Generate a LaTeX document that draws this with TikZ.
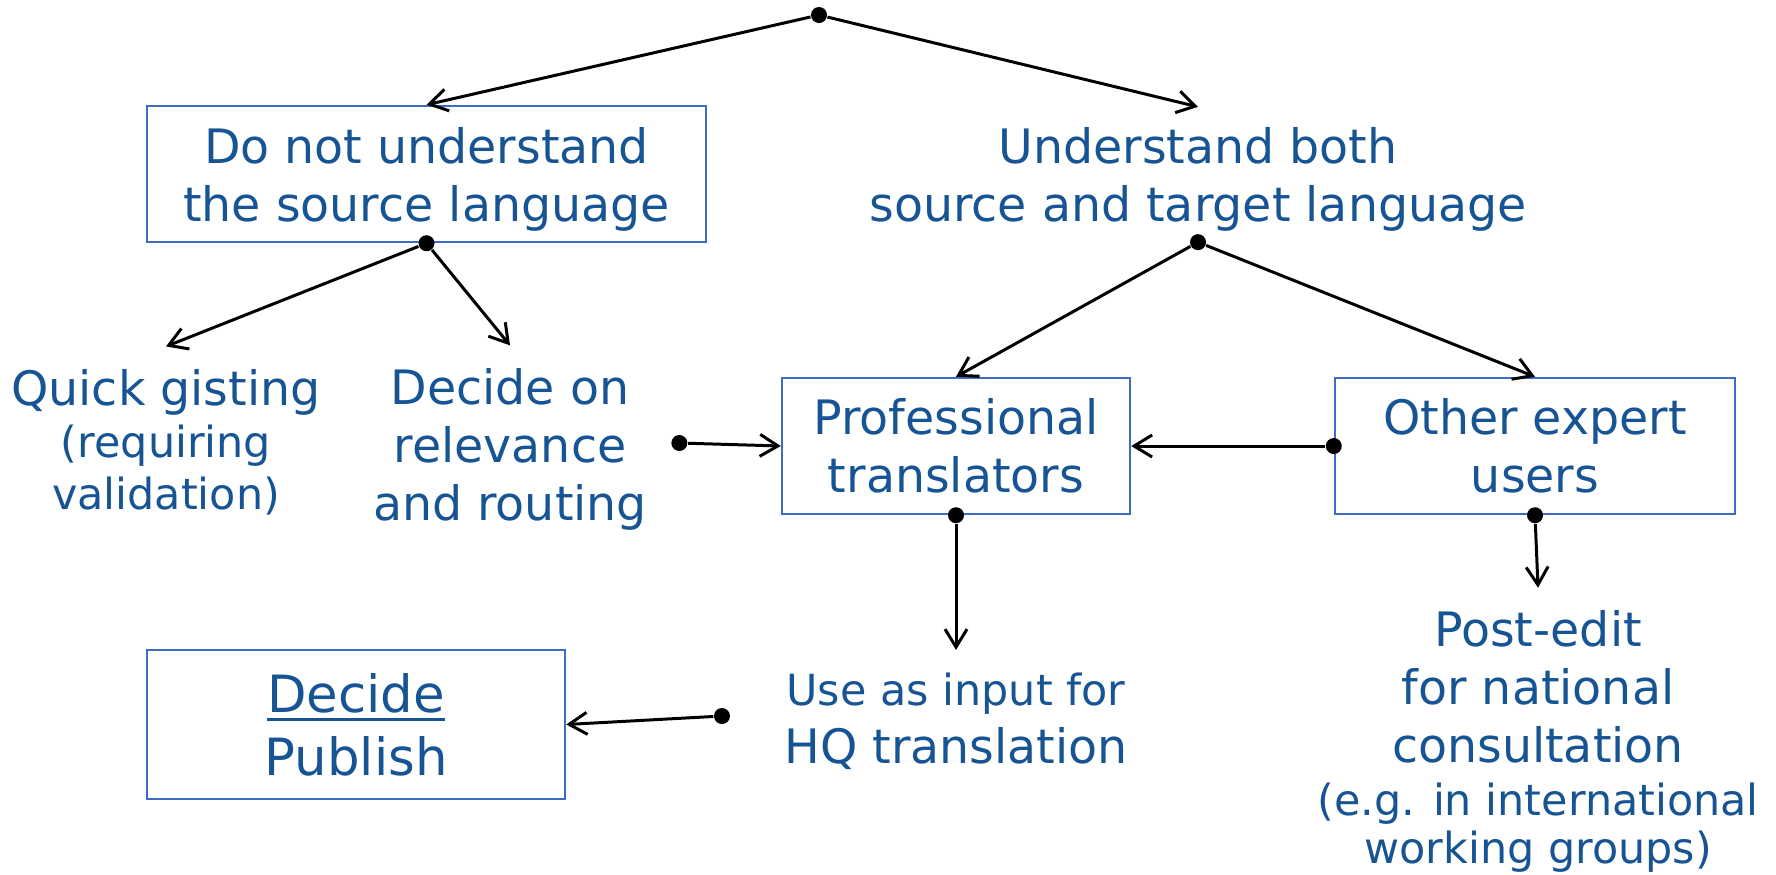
\documentclass[tikz,border=0pt]{standalone}
\usepackage{fontspec}
\setmainfont{DejaVu Sans}
\usepackage{xcolor}
\usepackage{tikz}
\usetikzlibrary{positioning,arrows.meta}
\definecolor{textblue}{RGB}{23,84,148}
\definecolor{boxblue}{RGB}{60,108,196}
\newcommand{\bigtxt}{\fontsize{13.5pt}{16.5pt}\selectfont}
\newcommand{\smalltxt}{\fontsize{12.2pt}{14.8pt}\selectfont}
\newcommand{\decidetxt}{\fontsize{14.6pt}{17.9pt}\selectfont}
\newcommand{\decideline}[1]{\setbox0\hbox{#1}\rlap{\rule[-2.4pt]{\wd0}{0.85pt}}\box0}

\begin{document}
\begin{tikzpicture}[node distance=2.75cm]
    \tikzstyle{box} = [rectangle, draw=boxblue, line width=0.7pt, text=textblue, align=center, font=\bigtxt]
    \tikzstyle{txt} = [align=center, text=textblue, inner xsep=0.1cm, inner ysep=0.22cm]
    \tikzstyle{joint} = [circle, fill=black, inner sep=0pt, minimum size=1.6mm]
    \tikzstyle{arr} = [-{Straight Barb[length=1.8mm,width=2.2mm]}, line width=0.85pt]

    \useasboundingbox (0,0) rectangle (17.76,-8.74);

    % Top split
    \node [joint] (root) at (8.19,-0.15) {};
    \node [box, text depth=0pt, minimum width=5.59cm, minimum height=1.36cm] (nocomp) at (4.265,-1.74) {Do not understand\\the source language};
    \node [txt, font=\bigtxt, inner ysep=0.1cm, right of=nocomp, xshift=4.965cm, yshift=-0.055cm] (both) {Understand both\\source and target language};

    % Second row
    \node [txt, font=\smalltxt, below of=nocomp, xshift=-2.605cm, yshift=0.07cm] (quick) {{\bigtxt Quick gisting}\\(requiring\\validation)};
    \node [txt, font=\bigtxt, below of=nocomp, xshift=0.835cm] (decide) {Decide on\\relevance\\and routing};
    \node [box, minimum width=3.48cm, minimum height=1.36cm, below of=nocomp, xshift=5.295cm, yshift=0.03cm] (prof) {Professional\\translators};
    \node [box, minimum width=4cm, minimum height=1.36cm, right of=prof, xshift=3.04cm] (other) {Other expert\\users};

    % Bottom row
    \node [txt, font=\bigtxt, below of=prof] (hq) {{\smalltxt Use as input for}\\HQ translation};
    \node [txt, font=\bigtxt, below of=other, xshift=0.03cm, yshift=-0.205cm] (post) {Post-edit\\for national\\consultation\\[-1.4pt]{\smalltxt (e.g. in international}\\[-2.8pt]{\smalltxt working groups)}};
    \node [box, font=\decidetxt, minimum width=4.18cm, minimum height=1.49cm, left of=hq, xshift=-3.25cm, yshift=-0.035cm] (publish) {\decideline{Decide}\\Publish};

    % Joints
    \node [joint] (ncdot) at (nocomp.south) {};
    \node [joint] (bothdot) at (both.south) {};
    \node [joint, right=0.13cm of decide, yshift=0.06cm] (decdot) {};
    \node [joint] (othdot) at (other.west) {};
    \node [joint] (profdot) at (prof.south) {};
    \node [joint] (postdot) at (other.south) {};
    \node [joint, left=0.43cm of hq, yshift=0.05cm] (hqdot) {};

    % Arrows
    \draw [arr] (root) -- (nocomp.north);
    \draw [arr] (root) -- ([yshift=1mm]both.north);
    \draw [arr] (ncdot) -- (quick.north);
    \draw [arr] (ncdot) -- (decide.north);
    \draw [arr] (bothdot) -- (prof.north);
    \draw [arr] (bothdot) -- (other.north);
    \draw [arr] (decdot) -- (prof.west);
    \draw [arr] (othdot) -- (prof.east);
    \draw [arr] (profdot) -- (hq.north);
    \draw [arr] (postdot) -- (post.north);
    \draw [arr] (hqdot) -- (publish.east);
\end{tikzpicture}
\end{document}
